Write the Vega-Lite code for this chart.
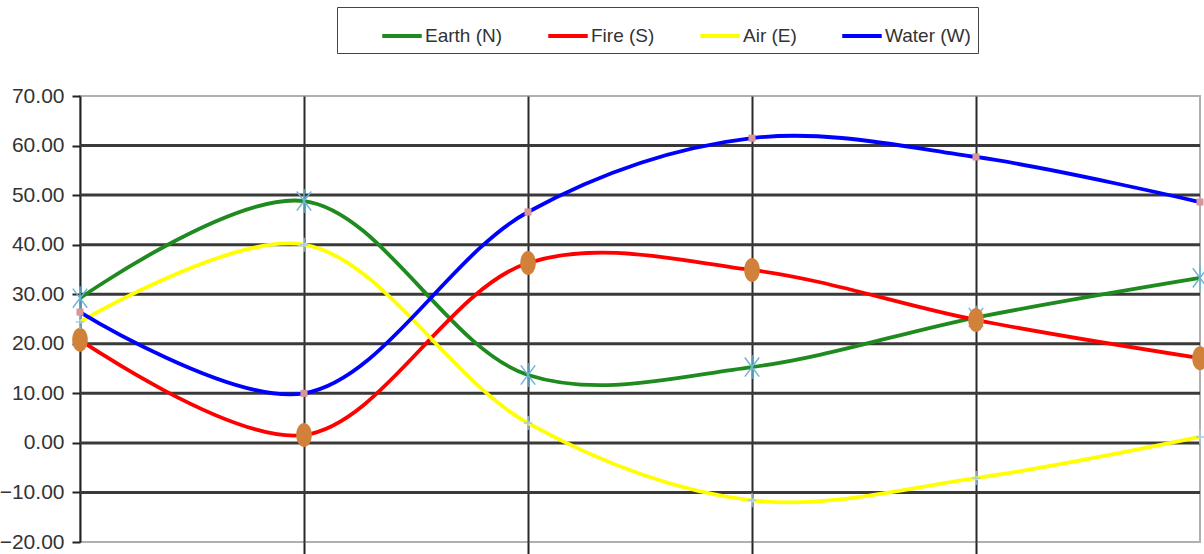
{
  "$schema": "https://vega.github.io/schema/vega-lite/v6.json",
  "autosize": "none",
  "padding": {"left": 80, "top": 96, "right": 4, "bottom": 12},
  "width": 1120,
  "height": 446,
  "background": "white",
  "config": {
    "view": {"stroke": "#b0b0b0", "strokeWidth": 2},
    "font": "Liberation Sans Narrow, Arial Narrow, Liberation Sans, sans-serif"
  },
  "data": {
    "values": [
      {"x": 0, "series": "Earth (N)", "value": 29.2},
      {"x": 1, "series": "Earth (N)", "value": 48.8},
      {"x": 2, "series": "Earth (N)", "value": 13.7},
      {"x": 3, "series": "Earth (N)", "value": 15.3},
      {"x": 4, "series": "Earth (N)", "value": 25.3},
      {"x": 5, "series": "Earth (N)", "value": 33.3},
      {"x": 0, "series": "Fire (S)", "value": 20.8},
      {"x": 1, "series": "Fire (S)", "value": 1.6},
      {"x": 2, "series": "Fire (S)", "value": 36.3},
      {"x": 3, "series": "Fire (S)", "value": 34.9},
      {"x": 4, "series": "Fire (S)", "value": 24.8},
      {"x": 5, "series": "Fire (S)", "value": 17.1},
      {"x": 0, "series": "Air (E)", "value": 24.4},
      {"x": 1, "series": "Air (E)", "value": 40.0},
      {"x": 2, "series": "Air (E)", "value": 4.0},
      {"x": 3, "series": "Air (E)", "value": -11.6},
      {"x": 4, "series": "Air (E)", "value": -7.1},
      {"x": 5, "series": "Air (E)", "value": 1.2},
      {"x": 0, "series": "Water (W)", "value": 26.4},
      {"x": 1, "series": "Water (W)", "value": 10.0},
      {"x": 2, "series": "Water (W)", "value": 46.6},
      {"x": 3, "series": "Water (W)", "value": 61.5},
      {"x": 4, "series": "Water (W)", "value": 57.7},
      {"x": 5, "series": "Water (W)", "value": 48.6}
    ]
  },
  "encoding": {
    "x": {
      "field": "x",
      "type": "quantitative",
      "scale": {"domain": [0, 5], "nice": false, "zero": false},
      "axis": {
        "title": null,
        "values": [1, 2, 3, 4],
        "labels": false,
        "domain": false,
        "ticks": true,
        "tickSize": 12,
        "tickWidth": 2,
        "tickColor": "#222",
        "grid": true,
        "gridWidth": 2,
        "gridColor": "#2a2a2a"
      }
    },
    "y": {
      "field": "value",
      "type": "quantitative",
      "scale": {"domain": [-20, 70], "nice": false},
      "axis": {
        "title": null,
        "values": [-20, -10, 0, 10, 20, 30, 40, 50, 60, 70],
        "format": ".2f",
        "labelFont": "Liberation Sans Narrow, Arial Narrow, Liberation Sans, sans-serif",
        "labelFontSize": 21,
        "labelColor": "#333",
        "labelPadding": 8,
        "domain": true,
        "domainColor": "#222",
        "domainWidth": 2,
        "ticks": true,
        "tickSize": 8,
        "tickWidth": 2,
        "tickColor": "#222",
        "grid": false
      }
    }
  },
  "layer": [
    {
      "mark": {"type": "rule", "color": "#3a3a3a", "strokeWidth": 3},
      "data": {"values": [{"g": -10}, {"g": 0}, {"g": 10}, {"g": 20}, {"g": 30}, {"g": 40}, {"g": 50}, {"g": 60}]},
      "encoding": {"y": {"field": "g", "type": "quantitative"}, "x": null}
    },
    {
      "mark": {"type": "line", "interpolate": "catmull-rom", "strokeWidth": 3.8},
      "encoding": {
        "color": {
          "field": "series",
          "type": "nominal",
          "sort": ["Earth (N)", "Fire (S)", "Air (E)", "Water (W)"],
          "scale": {
            "domain": ["Earth (N)", "Fire (S)", "Air (E)", "Water (W)"],
            "range": ["#1f8a1f", "#ff0000", "#ffff00", "#0000ff"]
          },
          "legend": {
            "orient": "none",
            "legendX": 257,
            "legendY": -89,
            "direction": "horizontal",
            "title": "\u00a0",
            "titleOrient": "left",
            "titlePadding": 36,
            "titleFontSize": 20,
            "padding": 7,
            "strokeColor": "#444",
            "fillColor": "white",
            "columnPadding": 37,
            "labelFont": "Liberation Sans Narrow, Arial Narrow, Liberation Sans, sans-serif",
            "labelFontSize": 19,
            "labelColor": "#333",
            "labelOffset": 1,
            "labelExpr": "datum.label == 'Water (W)' ? datum.label + '\u00a0\u00a0\u00a0\u00a0\u00a0\u00a0' : datum.label",
            "symbolType": "M-1,0L1,0",
            "symbolSize": 1560,
            "symbolStrokeWidth": 4
          }
        }
      }
    },
    {
      "transform": [{"filter": "datum.series == 'Earth (N)'"}],
      "mark": {"type": "point", "shape": "M0,-1L0,1M-0.6,-0.8L0.6,0.8M-0.6,0.8L0.6,-0.8", "size": 576, "filled": false, "stroke": "#6bb5d8", "strokeWidth": 1.5, "opacity": 1}
    },
    {
      "transform": [{"filter": "datum.series == 'Fire (S)'"}],
      "mark": {"type": "point", "shape": "M0,-1A0.65,1 0 1,1 0,1A0.65,1 0 1,1 0,-1Z", "size": 576, "filled": true, "fill": "#d2813a", "opacity": 1}
    },
    {
      "transform": [{"filter": "datum.series == 'Air (E)'"}],
      "mark": {"type": "point", "shape": "M-0.6,0L0.6,0M0,-1L0,1", "size": 196, "filled": false, "stroke": "#a8c8e8", "strokeWidth": 1.5, "opacity": 1}
    },
    {
      "transform": [{"filter": "datum.series == 'Water (W)'"}],
      "mark": {"type": "point", "shape": "square", "size": 50, "filled": true, "fill": "#d8969a", "opacity": 1}
    }
  ]
}
